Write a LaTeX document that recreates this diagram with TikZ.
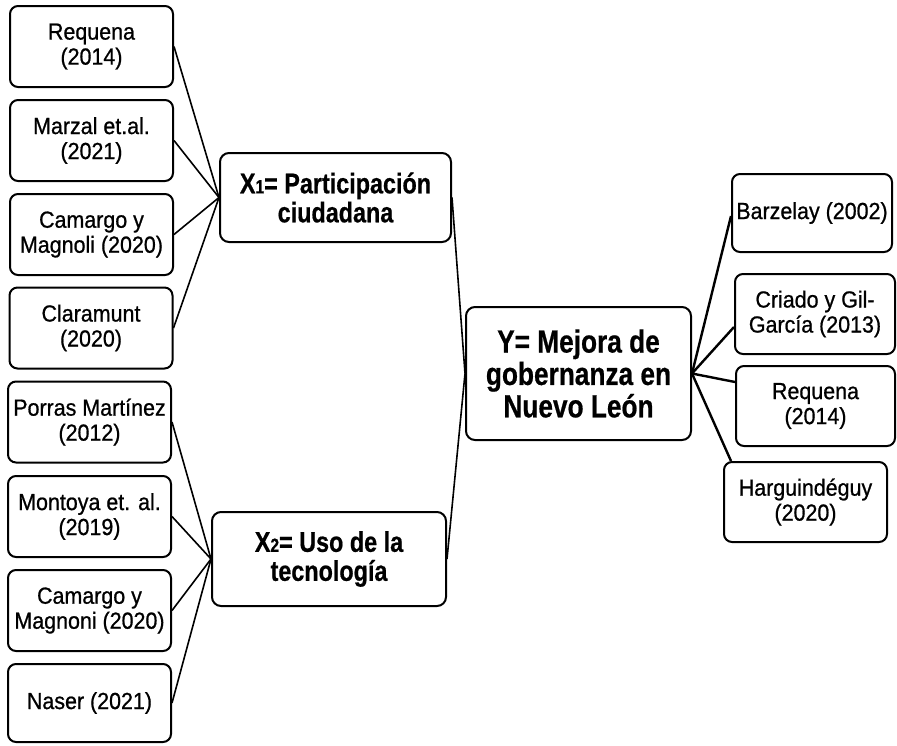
\documentclass[tikz,border=0pt]{standalone}
\usepackage{fontspec}
\newfontfamily\regf[FakeStretch=0.92,FakeBold=0.8]{Liberation Sans}
\newfontfamily\bldf[FakeStretch=0.82,FakeBold=0.6]{Liberation Sans}
\usetikzlibrary{calc}
\begin{document}
\begin{tikzpicture}[x=1pt,y=-1pt,
  refbox/.style={draw, line width=2pt, rounded corners=8pt, align=center, inner sep=0pt,
    font=\regf\fontsize{23.3}{25}\selectfont},
  varbox/.style={draw, line width=2pt, rounded corners=9pt, align=center, inner sep=0pt,
    font=\bldf\bfseries\fontsize{28.5}{29}\selectfont},
  ybox/.style={varbox, font=\bldf\bfseries\fontsize{32}{32.4}\selectfont},
  thinlink/.style={line width=1.6pt},
  thicklink/.style={line width=2.4pt}]
\useasboundingbox (0,0) rectangle (897,745);
% left references
\node[refbox, minimum width=163pt, minimum height=81pt] (l1) at (91.5,46.5) {Requena\\(2014)};
\node[refbox, minimum width=163pt, minimum height=81pt] (l2) at (91.5,140.5) {Marzal et.al.\\(2021)};
\node[refbox, minimum width=163pt, minimum height=81pt] (l3) at (91.5,234.5) {Camargo y\\Magnoli (2020)};
\node[refbox, minimum width=163pt, minimum height=81pt] (l4) at (91,328) {Claramunt\\(2020)};
\node[refbox, minimum width=163pt, minimum height=81pt] (l5) at (89.5,422) {Porras Mart\'{\i}nez\\(2012)};
\node[refbox, minimum width=163pt, minimum height=81pt] (l6) at (89.5,516.5) {Montoya et. al.\\(2019)};
\node[refbox, minimum width=163pt, minimum height=81pt] (l7) at (89.5,610.5) {Camargo y\\Magnoni (2020)};
\node[refbox, minimum width=163pt, minimum height=78pt] (l8) at (89.5,703) {Naser (2021)};
% variables
\node[varbox, minimum width=231pt, minimum height=89pt] (x1) at (335.5,197.5)
  {X{\fontsize{19}{19}\selectfont 1}= Participación\\ciudadana};
\node[varbox, minimum width=234pt, minimum height=94pt] (x2) at (329,559)
  {X{\fontsize{19}{19}\selectfont 2}= Uso de la\\tecnología};
\node[ybox, minimum width=225pt, minimum height=133pt] (y) at (578.5,373.5)
  {Y= Mejora de\\gobernanza en\\Nuevo León};
% right references
\node[refbox, minimum width=160pt, minimum height=78pt] (r1) at (812,213) {Barzelay (2002)};
\node[refbox, minimum width=160pt, minimum height=80pt] (r2) at (815,314) {Criado y Gil-\\García (2013)};
\node[refbox, minimum width=159pt, minimum height=80pt] (r3) at (815.5,406) {Requena\\(2014)};
\node[refbox, minimum width=163pt, minimum height=80pt] (r4) at (805.5,502) {Harguindéguy\\(2020)};
% connectors
\foreach \n in {l1,l2,l3,l4} \draw[thinlink] (\n.east) -- (x1.west);
\foreach \n in {l5,l6,l7,l8} \draw[thinlink] (\n.east) -- (x2.west);
\draw[thinlink] (x1.east) -- (y.west);
\draw[thinlink] (x2.east) -- (y.west);
\draw[thicklink] (y.east) -- ([yshift=-3pt]r1.west);
\draw[thicklink] (y.east) -- ([yshift=-13pt]r2.west);
\draw[thicklink] (y.east) -- ([yshift=24pt]r3.west);
\draw[thicklink] (y.east) -- ([xshift=8pt]r4.north west);
\end{tikzpicture}
\end{document}
